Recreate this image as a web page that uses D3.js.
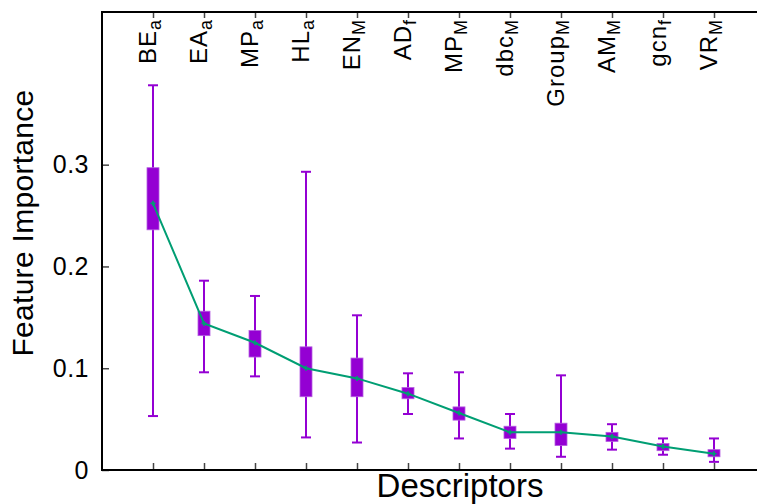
<!DOCTYPE html>
<html>
<head>
<meta charset="utf-8">
<script src="https://cdn.jsdelivr.net/npm/d3@7"></script>
<style>
	body { margin: 0; background: #fff; }
	text { font-family: "Liberation Sans", Arial, Helvetica, sans-serif; fill: #000; }
</style>
</head>
<body>
<div id="chart"></div>
<script>

// descriptor names, split into main text and subscript
const labelMain = ["BE", "EA", "MP", "HL", "EN", "AD", "MP", "dbc", "Group", "AM", "gcn", "VR"];
const labelSub  = ["a", "a", "a", "a", "M", "f", "M", "M", "M", "M", "f", "M"];

// box plot values
const whiskerLow  = [0.053, 0.096, 0.092, 0.032, 0.027, 0.055, 0.031, 0.021, 0.013, 0.020, 0.015, 0.008];
const boxLow      = [0.236, 0.132, 0.111, 0.072, 0.072, 0.070, 0.049, 0.031, 0.024, 0.028, 0.019, 0.013];
const meanValue   = [0.262, 0.144, 0.125, 0.100, 0.090, 0.075, 0.056, 0.037, 0.037, 0.033, 0.023, 0.016];
const boxHigh     = [0.297, 0.156, 0.137, 0.121, 0.110, 0.081, 0.062, 0.043, 0.046, 0.037, 0.026, 0.020];
const whiskerHigh = [0.378, 0.186, 0.171, 0.293, 0.152, 0.095, 0.096, 0.055, 0.093, 0.045, 0.031, 0.031];

const yTicks = [0, 0.1, 0.2, 0.3];

class BoxChart {

	constructor(parentElement) {
		this.parentElement = parentElement;
		this.purple = "#9400D3";
		this.green = "#009E73";
		this.displayData = labelMain.map((m, i) => ({
			idx: i + 1,
			main: m,
			sub: labelSub[i],
			wlo: whiskerLow[i],
			lo: boxLow[i],
			mean: meanValue[i],
			hi: boxHigh[i],
			whi: whiskerHigh[i]
		}));
	}

	initVis() {
		let vis = this;

		vis.width = 757;
		vis.height = 504;
		vis.margin = {top: 12, left: 102, bottom: 470, right: 765};

		vis.svg = d3.select("#" + vis.parentElement).append("svg")
			.attr("width", vis.width)
			.attr("height", vis.height);

		// x in category units, one slot per descriptor
		vis.x = d3.scaleLinear()
			.domain([0, 13])
			.range([vis.margin.left, vis.margin.right]);

		vis.y = d3.scaleLinear()
			.domain([0, 0.45])
			.range([vis.margin.bottom, vis.margin.top]);

		vis.drawAxes();
		vis.updateVis();
	}

	drawAxes() {
		let vis = this;
		let idx = vis.displayData.map(d => d.idx);

		// left axis, ticks pointing inward
		let yAxis = d3.axisLeft(vis.y)
			.tickValues(yTicks)
			.tickSize(-7)
			.tickPadding(14)
			.tickFormat(d => d === 0 ? "0" : d3.format(".1f")(d));

		let gy = vis.svg.append("g")
			.attr("class", "y-axis axis")
			.attr("transform", "translate(" + vis.margin.left + ",0)")
			.call(yAxis);
		gy.select(".domain").remove();
		gy.selectAll(".tick line").attr("stroke", "#444").attr("stroke-width", 1.5);
		gy.selectAll(".tick text")
			.attr("font-size", 25)
			.attr("x", -13)
			.attr("letter-spacing", 0.5);

		// bottom axis ticks, no labels
		let xAxis = d3.axisBottom(vis.x)
			.tickValues(idx)
			.tickSize(-7)
			.tickFormat("");
		let gx = vis.svg.append("g")
			.attr("class", "x-axis axis")
			.attr("transform", "translate(0," + vis.margin.bottom + ")")
			.call(xAxis);
		gx.select(".domain").remove();
		gx.selectAll(".tick line").attr("stroke", "#444").attr("stroke-width", 1.5);

		// top axis ticks
		let x2Axis = d3.axisTop(vis.x)
			.tickValues(idx)
			.tickSize(-6)
			.tickFormat("");
		let gx2 = vis.svg.append("g")
			.attr("class", "x2-axis axis")
			.attr("transform", "translate(0," + vis.margin.top + ")")
			.call(x2Axis);
		gx2.select(".domain").remove();
		gx2.selectAll(".tick line").attr("stroke", "#444").attr("stroke-width", 1.5);

		// frame
		vis.svg.append("rect")
			.attr("x", vis.margin.left)
			.attr("y", vis.margin.top)
			.attr("width", vis.margin.right - vis.margin.left)
			.attr("height", vis.margin.bottom - vis.margin.top)
			.attr("fill", "none")
			.attr("stroke", "#000")
			.attr("stroke-width", 2);

		// descriptor labels along the top, rotated
		let labels = vis.svg.append("g").selectAll("text.cat")
			.data(vis.displayData)
			.enter()
			.append("text")
			.attr("class", "cat")
			.attr("text-anchor", "end")
			.attr("letter-spacing", 1)
			.attr("transform", d => "translate(" + (vis.x(d.idx) + 2.5) + ",20) rotate(-90)");
		labels.append("tspan")
			.attr("font-size", 24)
			.text(d => d.main);
		labels.append("tspan")
			.attr("font-size", 18)
			.attr("dy", 5)
			.attr("letter-spacing", 0)
			.text(d => d.sub);

		// axis titles
		vis.svg.append("text")
			.attr("transform", "translate(33,223) rotate(-90)")
			.attr("text-anchor", "middle")
			.attr("font-size", 30)
			.attr("letter-spacing", 0.3)
			.text("Feature Importance");

		vis.svg.append("text")
			.attr("x", 460)
			.attr("y", 497)
			.attr("text-anchor", "middle")
			.attr("font-size", 33)
			.text("Descriptors");
	}

	updateVis() {
		let vis = this;
		let data = vis.displayData;
		let capW = 10, boxW = 12;

		let g = vis.svg.append("g").attr("class", "boxes");

		// whiskers
		g.selectAll("line.whisker")
			.data(data)
			.enter()
			.append("line")
			.attr("class", "whisker")
			.attr("x1", d => vis.x(d.idx))
			.attr("x2", d => vis.x(d.idx))
			.attr("y1", d => vis.y(d.wlo))
			.attr("y2", d => vis.y(d.whi))
			.attr("stroke", vis.purple)
			.attr("stroke-width", 2);

		// caps top and bottom
		["wlo", "whi"].forEach(key => {
			g.selectAll("line.cap-" + key)
				.data(data)
				.enter()
				.append("line")
				.attr("class", "cap-" + key)
				.attr("x1", d => vis.x(d.idx) - capW / 2)
				.attr("x2", d => vis.x(d.idx) + capW / 2)
				.attr("y1", d => vis.y(d[key]))
				.attr("y2", d => vis.y(d[key]))
				.attr("stroke", vis.purple)
				.attr("stroke-width", 2);
		});

		// boxes
		g.selectAll("rect.box")
			.data(data)
			.enter()
			.append("rect")
			.attr("class", "box")
			.attr("x", d => vis.x(d.idx) - boxW / 2)
			.attr("width", boxW)
			.attr("y", d => vis.y(d.hi))
			.attr("height", d => vis.y(d.lo) - vis.y(d.hi))
			.attr("fill", vis.purple)
			.attr("stroke", "#b45ee0")
			.attr("stroke-width", 0.8);

		// mean line
		let line = d3.line()
			.x(d => vis.x(d.idx))
			.y(d => vis.y(d.mean));

		g.append("path")
			.datum(data)
			.attr("d", line)
			.attr("fill", "none")
			.attr("stroke", vis.green)
			.attr("stroke-width", 2);

		// small plus markers
		let sym = d3.symbol().type(d3.symbolCross).size(14);
		g.selectAll("path.pt")
			.data(data)
			.enter()
			.append("path")
			.attr("class", "pt")
			.attr("d", sym)
			.attr("transform", d => "translate(" + vis.x(d.idx) + "," + vis.y(d.mean) + ")")
			.attr("fill", vis.green);
	}
}

let chart = new BoxChart("chart");
chart.initVis();
</script>
</body>
</html>
